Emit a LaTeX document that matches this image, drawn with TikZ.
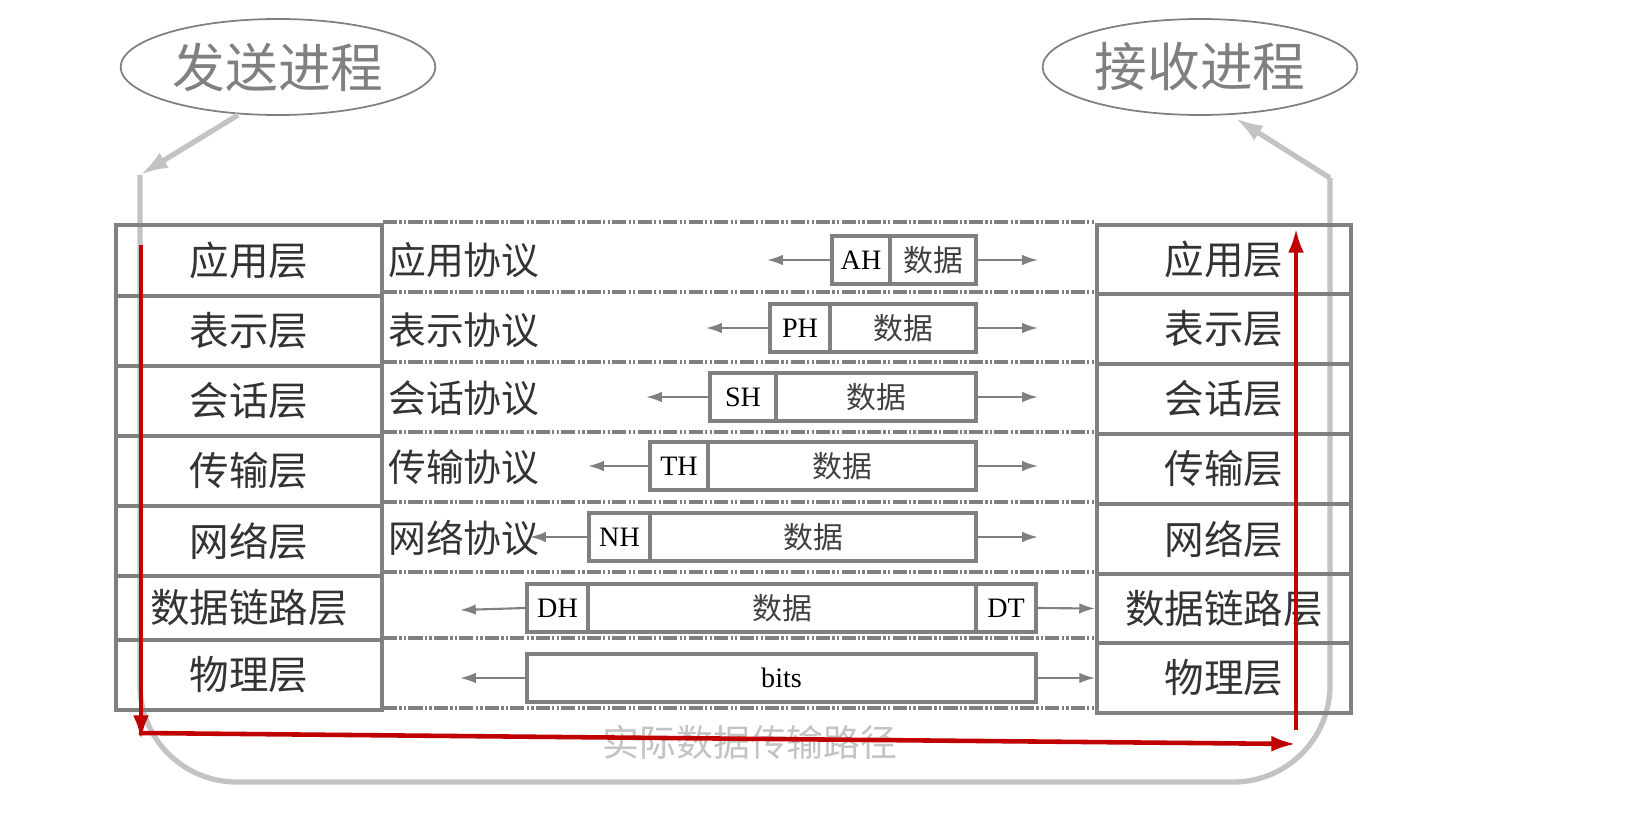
\documentclass[tikz,border=0pt]{standalone}
\usepackage{fontspec}
\setmainfont{Liberation Serif}
\newfontfamily\cjk{Noto Sans CJK SC}[BoldFont={Noto Sans CJK SC}]
\usetikzlibrary{arrows.meta,shapes.geometric}
\definecolor{gl}{RGB}{128,128,128}
\definecolor{lg}{RGB}{195,195,195}
\definecolor{rd}{RGB}{192,0,0}
\begin{document}
\begin{tikzpicture}[x=0.02cm,y=-0.02cm,
  cell/.style={draw=gl,line width=2.2pt,minimum width=266*0.02cm,inner sep=0pt,font=\cjk\fontsize{22.5}{24}\selectfont,text=black!80},
  rcell/.style={cell,minimum width=254*0.02cm},
  proto/.style={anchor=west,inner sep=0pt,font=\cjk\fontsize{21.5}{24}\selectfont,text=black!80},
  hdr/.style={draw=gl,line width=1.8pt,minimum height=48*0.02cm,inner sep=0pt,font=\fontsize{16}{18}\selectfont},
  dat/.style={hdr,font=\cjk\fontsize{17}{18}\selectfont,text=black!75},
  sep/.style={gl,line width=2pt,dash pattern=on 8pt off 1.3pt on 1.3pt off 1.3pt on 1.3pt off 1.3pt},
  ar/.style={gl,line width=1.2pt,-{Latex[length=9pt,width=6pt]}},
  big/.style={lg,line width=3pt},
  red/.style={rd,line width=2.6pt,-{Latex[length=14pt,width=9pt]}}]
\useasboundingbox (0,0) rectangle (1642,828);
% ellipses
\node[ellipse,draw=gl,line width=1pt,minimum width=304*0.02cm,minimum height=96*0.02cm,font=\cjk\fontsize{30}{30}\selectfont,text=gl] (send) at (278,67) {发送进程};
\node[ellipse,draw=gl,line width=1pt,minimum width=280*0.02cm,minimum height=96*0.02cm,font=\cjk\fontsize{30}{30}\selectfont,text=gl] (recv) at (1200,67) {接收进程};
% big grey path
\coordinate (g1) at (238,115);
\coordinate (g2) at (140,175);
\coordinate (g3) at (1330,178);
\coordinate (g4) at (1235,118);
\draw[big,-{Latex[length=16pt,width=10pt]}] (g1) -- (g2);
\draw[big,rounded corners=55pt] (g2) -- (140,782) -- (1330,782) -- (g3);
\draw[big,-{Latex[length=16pt,width=10pt]}] (g3) -- (g4);
\node[font=\cjk\fontsize{21}{24}\selectfont,text=lg] (path) at (750,742) {实际数据传输路径};
% left table
\foreach \n/\t/\a/\b in {l1/应用层/225/296,l2/表示层/296/366,l3/会话层/366/436,l4/传输层/436/506,l5/网络层/506/576,l6/数据链路层/576/640,l7/物理层/640/710}
  \node[cell,minimum height=(\b-\a)*0.02cm] (\n) at (249,{(\a+\b)/2}) {\t};
% right table
\foreach \n/\t/\a/\b in {r1/应用层/225/294,r2/表示层/294/364,r3/会话层/364/434,r4/传输层/434/504,r5/网络层/504/574,r6/数据链路层/574/643,r7/物理层/643/713}
  \node[rcell,minimum height=(\b-\a)*0.02cm] (\n) at (1224,{(\a+\b)/2}) {\t};
% separators
\foreach \y in {222,292,362,432,502,572,638,708}
  \draw[sep] (383,\y) -- (1096,\y);
% protocol names
\foreach \n/\t/\y in {p1/应用协议/260,p2/表示协议/330,p3/会话协议/398,p4/传输协议/467,p5/网络协议/538}
  \node[proto] (\n) at (388,\y) {\t};
% data boxes
\foreach \n/\h/\l/\d/\y/\e in {1/AH/832/890/260/767,2/PH/770/830/328/706,3/SH/710/776/397/646,4/TH/650/708/466/588,5/NH/589/650/537/530}{
  \node[hdr,minimum width=(\d-\l)*0.02cm] (h\n) at ({(\l+\d)/2},\y) {\h};
  \node[dat,minimum width=(976-\d)*0.02cm] (d\n) at ({(\d+976)/2},\y) {数据};
  \coordinate (le\n) at (\e,\y);
  \coordinate (re\n) at (1038,\y);
  \draw[ar] (h\n.west) -- (le\n);
  \draw[ar] (d\n.east) -- (re\n);
}
\node[hdr,minimum width=61*0.02cm] (h6) at (557.5,608) {DH};
\node[dat,minimum width=388*0.02cm] (d6) at (782,608) {数据};
\node[hdr,minimum width=60*0.02cm] (t6) at (1006,608) {DT};
\coordinate (le6) at (460,610);
\draw[ar] (h6.west) -- (le6);
\draw[ar] (t6.east) -- (r6.west);
\node[hdr,minimum width=509*0.02cm] (b7) at (781.5,678) {bits};
\coordinate (le7) at (460,678);
\draw[ar] (b7.west) -- (le7);
\draw[ar] (b7.east) -- (r7.west);
% red path
\coordinate (a1) at (141,245);
\coordinate (a2) at (141,740);
\coordinate (a3) at (1296,744);
\coordinate (a4) at (1296,730);
\coordinate (a5) at (1296,228);
\draw[red] (a1) -- (a2);
\draw[red] (139,733) -- (a3);
\draw[red] (a4) -- (a5);
\end{tikzpicture}
\end{document}
